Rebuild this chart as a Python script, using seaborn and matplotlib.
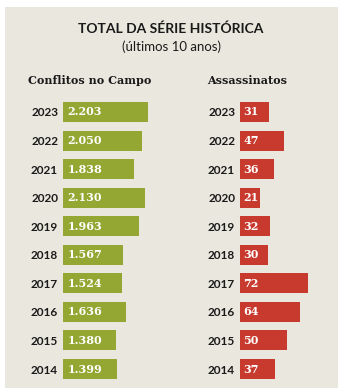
import matplotlib
matplotlib.use("Agg")
import matplotlib.pyplot as plt
from matplotlib.patches import Rectangle
import seaborn as sns
import pandas as pd

years = ["2023", "2022", "2021", "2020", "2019", "2018", "2017", "2016", "2015", "2014"]
conflitos = [2203, 2050, 1838, 2130, 1963, 1567, 1524, 1636, 1380, 1399]
conflitos_labels = ["2.203", "2.050", "1.838", "2.130", "1.963", "1.567", "1.524", "1.636", "1.380", "1.399"]
assassinatos = [31, 47, 36, 21, 32, 30, 72, 64, 50, 37]

title = "TOTAL DA SÉRIE HISTÓRICA"
subtitle = "(últimos 10 anos)"
head_left = "Conflitos no Campo"
head_right = "Assassinatos"

GREEN = "#94A733"
RED = "#C8392E"
BG = "#EAE8DE"

W, H = 342, 390
fig = plt.figure(figsize=(W / 100, H / 100), dpi=100)
fig.patch.set_facecolor("white")
fig.patches.append(Rectangle((5 / W, 1 - 388 / H), 333 / W, 381 / H,
                             transform=fig.transFigure, facecolor=BG,
                             edgecolor="none", zorder=-10))

def fx(px):
    return px / W

def fy(py):
    return 1 - py / H

fig.text(fx(171), fy(29), title, ha="center", va="center", fontsize=10,
         family="Lato", fontweight="bold", color="#1a1a1a")
fig.text(fx(171), fy(47), subtitle, ha="center", va="center", fontsize=9.5,
         family="Lato", color="#1a1a1a")
fig.text(fx(90), fy(81), head_left, ha="center", va="center", fontsize=8,
         family="DejaVu Serif", fontweight="bold", color="#1a1a1a")
fig.text(fx(247), fy(81), head_right, ha="center", va="center", fontsize=8,
         family="DejaVu Serif", fontweight="bold", color="#1a1a1a")

top_px, bot_px = 97.7, 383.3

def make_ax(x0, x1, values, labels, color, xmax):
    ax = fig.add_axes([fx(x0), fy(bot_px), fx(x1 - x0), (bot_px - top_px) / H])
    ax.set_zorder(5)
    df = pd.DataFrame({"year": years, "v": values})
    sns.barplot(data=df, x="v", y="year", orient="h", color=color,
                saturation=1, width=0.7, ax=ax, edgecolor="none")
    ax.set_xlim(0, xmax)
    ax.set_facecolor("none")
    for s in ax.spines.values():
        s.set_visible(False)
    ax.set_xticks([])
    ax.set_xlabel("")
    ax.set_ylabel("")
    ax.tick_params(axis="y", length=0, pad=3.5)
    for t in ax.get_yticklabels():
        t.set_fontfamily("Lato")
        t.set_fontweight("bold")
        t.set_fontsize(8.5)
        t.set_color("#1a1a1a")
    for i, lab in enumerate(labels):
        ax.text(xmax * 0.045, i, lab, ha="left", va="center", color="white",
                fontsize=8, family="DejaVu Serif", fontweight="bold")
    return ax

make_ax(63, 160, conflitos, conflitos_labels, GREEN, 2203 * 97 / 85)
make_ax(240, 312, assassinatos, [str(v) for v in assassinatos], RED, 72 / 0.94)

fig.savefig("out.png", dpi=100, facecolor=fig.get_facecolor())
